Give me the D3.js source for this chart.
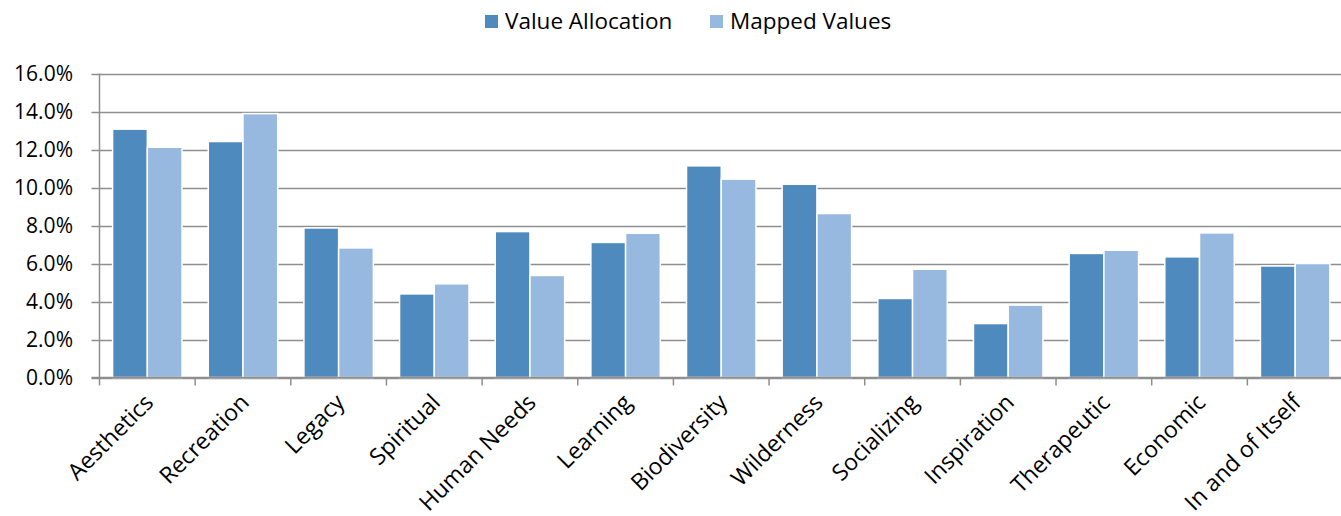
<!DOCTYPE html>
<html>
<head>
<meta charset="utf-8">
<script src="https://cdn.jsdelivr.net/npm/d3@7"></script>
<style>
  body { margin: 0; background: #fff; }
  svg { display: block; }
</style>
</head>
<body>
<svg width="1341" height="516"></svg>
<script>
const categories = ["Aesthetics", "Recreation", "Legacy", "Spiritual", "Human Needs", "Learning",
  "Biodiversity", "Wilderness", "Socializing", "Inspiration", "Therapeutic", "Economic", "In and of Itself"];
const seriesNames = ["Value Allocation", "Mapped Values"];
const valueAllocation = [13.07, 12.42, 7.87, 4.40, 7.68, 7.11, 11.14, 10.17, 4.16, 2.84, 6.53, 6.35, 5.87];
const mappedValues = [12.12, 13.89, 6.82, 4.93, 5.37, 7.59, 10.44, 8.63, 5.70, 3.81, 6.70, 7.61, 6.00];
const yTicks = [0, 2, 4, 6, 8, 10, 12, 14, 16];
const colors = ["#4f8abe", "#97b9df"];

const svg = d3.select("svg");
const font = "'Open Sans', sans-serif";

const plotLeft = 99.5, plotRight = 1343, plotTop = 73.5, plotBottom = 377.5;

const x = d3.scaleBand().domain(categories).range([plotLeft, plotRight]).paddingInner(0).paddingOuter(0);
const xs = d3.scaleBand().domain(seriesNames).range([0, x.bandwidth()]).paddingInner(0).paddingOuter(0.5 * 0.43 / 0.57);
const y = d3.scaleLinear().domain([0, 16]).range([plotBottom, plotTop]);

// gridlines
svg.append("g")
  .selectAll("line")
  .data(yTicks)
  .join("line")
  .attr("x1", plotLeft - 8)
  .attr("x2", 1341)
  .attr("y1", d => Math.round(y(d)) + 0.5)
  .attr("y2", d => Math.round(y(d)) + 0.5)
  .attr("stroke", "#8e8e8e")
  .attr("stroke-width", 1.5);

// bars
const data = [valueAllocation, mappedValues];
const groups = svg.append("g")
  .selectAll("g")
  .data(categories)
  .join("g")
  .attr("transform", d => `translate(${x(d)},0)`);

groups.selectAll("rect")
  .data((c, i) => seriesNames.map((s, k) => ({ s, v: data[k][i], k })))
  .join("rect")
  .attr("x", d => xs(d.s))
  .attr("width", xs.bandwidth())
  .attr("y", d => y(d.v))
  .attr("height", d => plotBottom - y(d.v))
  .attr("fill", d => colors[d.k])
  .attr("stroke", "#fff")
  .attr("stroke-width", 1.5);

// y axis line
svg.append("line")
  .attr("x1", plotLeft).attr("x2", plotLeft)
  .attr("y1", plotTop).attr("y2", plotBottom)
  .attr("stroke", "#8e8e8e").attr("stroke-width", 1.5);

// x axis line and ticks
svg.append("line")
  .attr("x1", plotLeft - 8).attr("x2", 1341)
  .attr("y1", plotBottom).attr("y2", plotBottom)
  .attr("stroke", "#8e8e8e").attr("stroke-width", 1.5);

svg.append("g")
  .selectAll("line")
  .data(categories.concat([null]))
  .join("line")
  .attr("x1", (d, i) => plotLeft + i * x.step())
  .attr("x2", (d, i) => plotLeft + i * x.step())
  .attr("y1", plotBottom)
  .attr("y2", plotBottom + 8)
  .attr("stroke", "#8e8e8e")
  .attr("stroke-width", 1.5);

// y labels
svg.append("g")
  .selectAll("text")
  .data(yTicks)
  .join("text")
  .attr("x", 73)
  .attr("y", d => y(d))
  .attr("dy", "0.36em")
  .attr("text-anchor", "end")
  .attr("font-family", font)
  .attr("font-size", "21px")
  .attr("fill", "#000")
  .text(d => d.toFixed(1) + "%");

// x labels
svg.append("g")
  .selectAll("text")
  .data(categories)
  .join("text")
  .attr("transform", d => `translate(${x(d) + x.bandwidth() / 2 - 4},${plotBottom + 15}) rotate(-45)`)
  .attr("text-anchor", "end")
  .attr("dy", "0.7em")
  .attr("font-family", font)
  .attr("font-size", "23px")
  .attr("fill", "#000")
  .text(d => d);

// legend
const legendPos = [485, 710];
const legend = svg.append("g")
  .selectAll("g")
  .data(seriesNames)
  .join("g")
  .attr("transform", (d, i) => `translate(${legendPos[i]},0)`);
legend.append("rect")
  .attr("x", 0).attr("y", 15)
  .attr("width", 13).attr("height", 13)
  .attr("fill", (d, i) => colors[i]);
legend.append("text")
  .attr("x", 20).attr("y", 29)
  .attr("font-family", font)
  .attr("font-size", "22.5px")
  .attr("fill", "#000")
  .text(d => d);
</script>
</body>
</html>
